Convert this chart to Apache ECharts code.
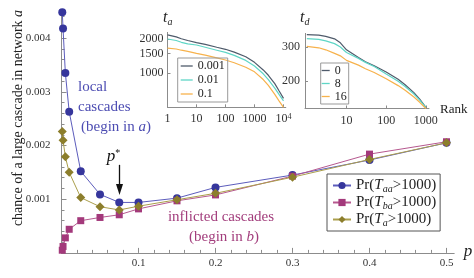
<!DOCTYPE html>
<html><head><meta charset="utf-8">
<script src="https://cdn.jsdelivr.net/npm/echarts@6/dist/echarts.min.js"></script>
<style>html,body{margin:0;padding:0;background:#fff}#c{width:474px;height:278px}</style>
</head><body><div id="c"></div>
<script>
// ---- main chart data ----
const pValues = [0.001, 0.002, 0.005, 0.01, 0.025, 0.05, 0.075, 0.1, 0.15, 0.2, 0.3, 0.4, 0.5];
const prTaa = [0.00448, 0.00418, 0.00335, 0.00263, 0.00152, 0.00109, 0.00094, 0.00094, 0.00102, 0.00122, 0.00145, 0.00173, 0.00205];
const prTba = [0.00005, 0.00012, 0.00028, 0.00044, 0.00060, 0.00066, 0.00071, 0.00082, 0.00097, 0.00108, 0.00143, 0.00184, 0.00207];
const prTa  = [0.00226, 0.00210, 0.00179, 0.00150, 0.00103, 0.00086, 0.00080, 0.00087, 0.00099, 0.00111, 0.00141, 0.00174, 0.00205];
const seriesNames = ['Pr(T_aa>1000)', 'Pr(T_ba>1000)', 'Pr(T_a>1000)'];
const mainTicksX = [0.1, 0.2, 0.3, 0.4, 0.5];
const mainTicksY = [0.001, 0.002, 0.003, 0.004];
const pStar = 0.075;

// ---- inset t_a ----
const rankA = [1, 2, 3, 5, 10, 20, 50, 100, 200, 500, 1000, 2000, 3000, 5000, 7000, 10000];
const ta0001 = [2190, 2100, 2020, 1950, 1870, 1800, 1700, 1630, 1540, 1400, 1250, 1070, 960, 810, 700, 600];
const ta001  = [2010, 1950, 1880, 1820, 1780, 1700, 1600, 1530, 1440, 1300, 1160, 990, 880, 740, 650, 570];
const ta01   = [1670, 1640, 1600, 1560, 1500, 1450, 1370, 1310, 1240, 1130, 1030, 880, 780, 650, 570, 500];
const taNames = ['0.001', '0.01', '0.1'];
const taTicksX = [1, 10, 100, 1000, 10000];
const taTicksY = [1000, 1500, 2000];

// ---- inset t_d ----
const rankD = [1, 2, 3, 5, 7, 10, 20, 30, 50, 100, 200, 300, 500, 700, 1000];
const td0  = [347, 345, 340, 330, 315, 290, 265, 252, 240, 223, 205, 192, 175, 162, 147];
const td8  = [331, 328, 322, 312, 300, 281, 262, 250, 238, 218, 200, 188, 172, 160, 147];
const td16 = [302, 297, 290, 278, 270, 256, 242, 232, 222, 206, 190, 180, 166, 156, 145];
const tdNames = ['0', '8', '16'];
const tdTicksX = [10, 100, 1000];
const tdTicksY = [200, 300];

const serif = '"Liberation Serif", "DejaVu Serif", serif';
const axisGray = '#8c8c8c';
const labelCol = '#333';
const blueM = '#36369c', blueL = '#5c5cbc', blueT = '#4c4cb2';
const pinkM = '#a3397b', pinkL = '#b6588f', pinkT = '#a23d7c';
const oliveM = '#8c7e2c', oliveL = '#ab9f4c';

const minorX = []; for (let i = 1; i <= 25; i++) if (i % 5) minorX.push(+(i * 0.02).toFixed(2));
const minorY = []; for (let i = 1; i <= 22; i++) if (i % 5) minorY.push(+(i * 0.0002).toFixed(4));

const zip = (xs, ys) => xs.map((x, i) => [x, ys[i]]);

const chart = echarts.init(document.getElementById('c'), null, {renderer: 'canvas'});

const legendRich = {
  'Pr(T_aa>1000)': 'Pr({i|T}{s|aa}>1000)',
  'Pr(T_ba>1000)': 'Pr({i|T}{s|ba}>1000)',
  'Pr(T_a>1000)': 'Pr({i|T}{s|a}>1000)'
};

function lineAxis(extra) {
  return Object.assign({
    splitLine: {show: false},
    axisLine: {show: true, lineStyle: {color: axisGray, width: 1}},
  }, extra);
}

const option = {
  animation: false,
  backgroundColor: '#fff',
  grid: [
    {left: 61.5, top: 11.3, width: 392.7, height: 241.6},
    {left: 167.5, top: 32.4, width: 118.3, height: 74.9},
    {left: 305, top: 33.4, width: 124, height: 75.1}
  ],
  xAxis: [
    lineAxis({gridIndex: 0, type: 'value', min: 0, max: 0.51,
      axisTick: {show: true, inside: true, length: 5, customValues: mainTicksX, lineStyle: {color: axisGray}},
      axisLabel: {customValues: mainTicksX, margin: 5, fontFamily: serif, fontSize: 11, color: labelCol}}),
    {gridIndex: 0, type: 'value', min: 0, max: 0.51, position: 'bottom', splitLine: {show: false},
      axisLine: {show: false}, axisLabel: {show: false},
      axisTick: {show: true, inside: true, length: 3, customValues: minorX, lineStyle: {color: axisGray}}},
    lineAxis({gridIndex: 1, type: 'log', logBase: 10, min: 1, max: 12000,
      axisTick: {show: true, inside: true, length: 3, customValues: taTicksX, lineStyle: {color: axisGray}},
      axisLabel: {customValues: taTicksX, margin: 6, fontFamily: serif, fontSize: 12, color: labelCol,
        formatter: v => (Math.abs(v - 10000) < 1 ? '10{sup|4}' : String(Math.round(v))),
        rich: {sup: {fontSize: 8, fontFamily: serif, color: labelCol, verticalAlign: 'top', lineHeight: 8}}}}),
    lineAxis({gridIndex: 2, type: 'log', logBase: 10, min: 0.9, max: 1200,
      axisTick: {show: true, inside: true, length: 3, customValues: tdTicksX, lineStyle: {color: axisGray}},
      axisLabel: {customValues: tdTicksX, margin: 6, fontFamily: serif, fontSize: 12, color: labelCol,
        formatter: v => String(Math.round(v))}})
  ],
  yAxis: [
    lineAxis({gridIndex: 0, type: 'value', min: 0, max: 0.0045,
      axisTick: {show: true, inside: true, length: 5, customValues: mainTicksY, lineStyle: {color: axisGray}},
      axisLabel: {customValues: mainTicksY, margin: 11, fontFamily: serif, fontSize: 11, color: labelCol,
        formatter: v => v.toFixed(3)}}),
    {gridIndex: 0, type: 'value', min: 0, max: 0.0045, position: 'left', splitLine: {show: false},
      axisLine: {show: false}, axisLabel: {show: false},
      axisTick: {show: true, inside: true, length: 3, customValues: minorY, lineStyle: {color: axisGray}}},
    lineAxis({gridIndex: 1, type: 'log', logBase: 10, min: 500, max: 2300,
      axisTick: {show: true, inside: true, length: 3, customValues: taTicksY, lineStyle: {color: axisGray}},
      axisLabel: {customValues: taTicksY, margin: 4, fontFamily: serif, fontSize: 12, color: labelCol,
        formatter: v => String(Math.round(v))}}),
    lineAxis({gridIndex: 2, type: 'log', logBase: 10, min: 145, max: 352,
      axisTick: {show: true, inside: true, length: 3, customValues: tdTicksY, lineStyle: {color: axisGray}},
      axisLabel: {customValues: tdTicksY, margin: 5, fontFamily: serif, fontSize: 12, color: labelCol,
        formatter: v => String(Math.round(v))}})
  ],
  legend: [
    {data: seriesNames, orient: 'vertical', left: 327, top: 174, selectedMode: false,
      borderColor: '#555', borderWidth: 1, padding: [3, 4, 3, 5], itemGap: 0, itemWidth: 18, itemHeight: 9,
      textStyle: {fontFamily: serif, fontSize: 15, color: '#222', lineHeight: 17,
        rich: {i: {fontFamily: serif, fontSize: 15, fontStyle: 'italic', color: '#222', lineHeight: 17},
               s: {fontFamily: serif, fontSize: 10, fontStyle: 'italic', color: '#222', verticalAlign: 'bottom', lineHeight: 11}}},
      formatter: n => legendRich[n]},
    {data: taNames, orient: 'vertical', left: 177.7, top: 58, selectedMode: false, icon: 'rect',
      borderColor: '#999', borderWidth: 1, padding: [1, 3, 1, 3], itemGap: 0, itemWidth: 12, itemHeight: 1.3,
      textStyle: {fontFamily: serif, fontSize: 12, color: '#222', lineHeight: 14}},
    {data: tdNames, orient: 'vertical', left: 320.7, top: 63, selectedMode: false, icon: 'rect',
      borderColor: '#999', borderWidth: 1, padding: [1, 2, 1, 1], itemGap: 0, itemWidth: 8, itemHeight: 1.3,
      textStyle: {fontFamily: serif, fontSize: 12, color: '#222', lineHeight: 13}}
  ],
  series: [
    {type: 'line', name: seriesNames[0], xAxisIndex: 0, yAxisIndex: 0, data: zip(pValues, prTaa),
      symbol: 'circle', symbolSize: 8, lineStyle: {color: blueL, width: 1}, itemStyle: {color: blueM}, z: 3},
    {type: 'line', name: seriesNames[1], xAxisIndex: 0, yAxisIndex: 0, data: zip(pValues, prTba),
      symbol: 'rect', symbolSize: 7, lineStyle: {color: pinkL, width: 1}, itemStyle: {color: pinkM}, z: 4},
    {type: 'line', name: seriesNames[2], xAxisIndex: 0, yAxisIndex: 0, data: zip(pValues, prTa),
      symbol: 'diamond', symbolSize: 9, lineStyle: {color: oliveL, width: 1}, itemStyle: {color: oliveM}, z: 5},
    {type: 'line', name: taNames[0], xAxisIndex: 2, yAxisIndex: 2, data: zip(rankA, ta0001), symbol: 'none',
      lineStyle: {color: '#4f5b6b', width: 1.2}, itemStyle: {color: '#4f5b6b'}},
    {type: 'line', name: taNames[1], xAxisIndex: 2, yAxisIndex: 2, data: zip(rankA, ta001), symbol: 'none',
      lineStyle: {color: '#5fd6c6', width: 1.2}, itemStyle: {color: '#5fd6c6'}},
    {type: 'line', name: taNames[2], xAxisIndex: 2, yAxisIndex: 2, data: zip(rankA, ta01), symbol: 'none',
      lineStyle: {color: '#f7b24c', width: 1.2}, itemStyle: {color: '#f7b24c'}},
    {type: 'line', name: tdNames[0], xAxisIndex: 3, yAxisIndex: 3, data: zip(rankD, td0), symbol: 'none',
      lineStyle: {color: '#4f5b6b', width: 1.2}, itemStyle: {color: '#4f5b6b'}},
    {type: 'line', name: tdNames[1], xAxisIndex: 3, yAxisIndex: 3, data: zip(rankD, td8), symbol: 'none',
      lineStyle: {color: '#5fd6c6', width: 1.2}, itemStyle: {color: '#5fd6c6'}},
    {type: 'line', name: tdNames[2], xAxisIndex: 3, yAxisIndex: 3, data: zip(rankD, td16), symbol: 'none',
      lineStyle: {color: '#f7b24c', width: 1.2}, itemStyle: {color: '#f7b24c'}}
  ]
};
chart.setOption(option);

// annotations
const arrowTop = chart.convertToPixel({xAxisIndex: 0, yAxisIndex: 0}, [pStar, 0.00164]);
const arrowTip = chart.convertToPixel({xAxisIndex: 0, yAxisIndex: 0}, [pStar, 0.00108]);
const ax = Math.round(arrowTop[0]) + 0.5;
chart.setOption({
  graphic: [
    {type: 'text', x: 18, y: 118, rotation: Math.PI / 2,
      style: {text: 'chance of a large cascade in network {i|a}', fontFamily: serif, fontSize: 14, fill: '#222',
        align: 'center', verticalAlign: 'middle',
        rich: {i: {fontFamily: serif, fontSize: 14, fontStyle: 'italic', fill: '#222'}}}},
    {type: 'text', x: 78, y: 87, style: {text: 'local', fontFamily: serif, fontSize: 15, fill: blueT, verticalAlign: 'middle'}},
    {type: 'text', x: 78, y: 107, style: {text: 'cascades', fontFamily: serif, fontSize: 15, fill: blueT, verticalAlign: 'middle'}},
    {type: 'text', x: 81, y: 127, style: {text: '(begin in {i|a})', fontFamily: serif, fontSize: 15, fill: blueT, verticalAlign: 'middle',
      rich: {i: {fontFamily: serif, fontSize: 15, fontStyle: 'italic', fill: blueT}}}},
    {type: 'text', x: 221, y: 217, style: {text: 'inflicted cascades', fontFamily: serif, fontSize: 15, fill: pinkT, align: 'center', verticalAlign: 'middle'}},
    {type: 'text', x: 224, y: 237, style: {text: '(begin in {i|b})', fontFamily: serif, fontSize: 15, fill: pinkT, align: 'center', verticalAlign: 'middle',
      rich: {i: {fontFamily: serif, fontSize: 15, fontStyle: 'italic', fill: pinkT}}}},
    {type: 'text', x: ax - 6, y: 157, style: {text: '{p|p}{s|*}', align: 'center', verticalAlign: 'middle',
      rich: {p: {fontFamily: serif, fontSize: 17, fontStyle: 'italic', fill: '#111', lineHeight: 18},
             s: {fontFamily: serif, fontSize: 10, fill: '#111', verticalAlign: 'top', lineHeight: 10}}}},
    {type: 'line', shape: {x1: ax, y1: arrowTop[1], x2: ax, y2: arrowTip[1] - 8}, style: {stroke: '#111', lineWidth: 1.3}},
    {type: 'polygon', shape: {points: [[ax - 3.5, arrowTip[1] - 11], [ax + 3.5, arrowTip[1] - 11], [ax, arrowTip[1]]]}, style: {fill: '#111'}},
    {type: 'text', x: 468, y: 252, style: {text: 'p', fontFamily: serif, fontSize: 17, fontStyle: 'italic', fill: '#222', align: 'center', verticalAlign: 'middle'}},
    {type: 'text', x: 440, y: 110, style: {text: 'Rank', fontFamily: serif, fontSize: 13, fill: '#222', verticalAlign: 'middle'}},
    {type: 'text', x: 163, y: 18, style: {text: '{t|t}{s|a}', verticalAlign: 'middle',
      rich: {t: {fontFamily: serif, fontSize: 16, fontStyle: 'italic', fill: '#222', lineHeight: 18},
             s: {fontFamily: serif, fontSize: 10, fontStyle: 'italic', fill: '#222', verticalAlign: 'bottom', lineHeight: 10}}}},
    {type: 'text', x: 300, y: 18, style: {text: '{t|t}{s|d}', verticalAlign: 'middle',
      rich: {t: {fontFamily: serif, fontSize: 16, fontStyle: 'italic', fill: '#222', lineHeight: 18},
             s: {fontFamily: serif, fontSize: 10, fontStyle: 'italic', fill: '#222', verticalAlign: 'bottom', lineHeight: 10}}}}
  ]
});
</script>
</body></html>
